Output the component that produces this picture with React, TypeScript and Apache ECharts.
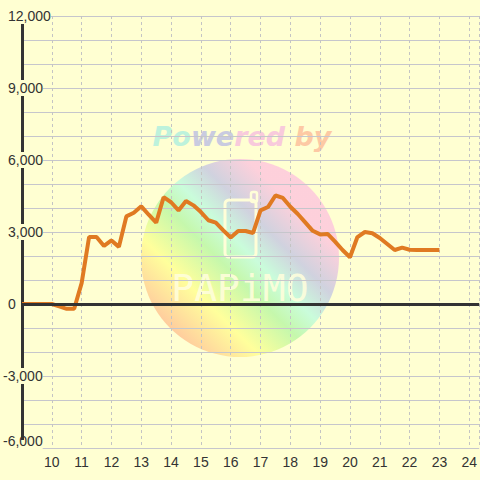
import React, { useEffect, useRef } from "react";
import * as echarts from "echarts";

const hours = [
  9, 9.25, 9.5, 9.75, 10, 10.25, 10.5, 10.75, 11, 11.25, 11.5, 11.75, 12, 12.25, 12.5, 12.75,
  13, 13.25, 13.5, 13.75, 14, 14.25, 14.5, 14.75, 15, 15.25, 15.5, 15.75, 16, 16.25, 16.5, 16.75,
  17, 17.25, 17.5, 17.75, 18, 18.25, 18.5, 18.75, 19, 19.25, 19.5, 19.75, 20, 20.25, 20.5, 20.75,
  21, 21.25, 21.5, 21.75, 22, 22.25, 22.5, 22.75, 23,
];
const values = [
  0, 0, 0, 0, 0, -100, -200, -200, 870, 2790, 2790, 2420, 2650, 2380, 3650, 3800,
  4070, 3720, 3390, 4450, 4240, 3900, 4290, 4110, 3830, 3490, 3390, 3070, 2770, 3040, 3040, 2960,
  3900, 4040, 4520, 4420, 4050, 3750, 3400, 3050, 2900, 2920, 2600, 2250, 1950, 2790, 3000, 2950,
  2750, 2500, 2250, 2350, 2260, 2250, 2250, 2250, 2250,
];
const xLabelMin = 10;
const xLabelMax = 24;
const yLabelStep = 3000;

const BG = "#ffffd2";
const FONT = "'Liberation Sans', Arial, sans-serif";

export default function App() {
  const ref = useRef<HTMLDivElement>(null);
  useEffect(() => {
    const chart = echarts.init(ref.current!, null, { renderer: "svg" });
    const fmt = (v: number) => v.toLocaleString("en-US");
    const G = echarts.graphic;
    const circleFill = new G.LinearGradient(0.15, 0.85, 0.85, 0.15, [
      { offset: 0, color: "#ffc898" },
      { offset: 0.22, color: "#ffff96" },
      { offset: 0.42, color: "#bff7a8" },
      { offset: 0.55, color: "#c4fcdc" },
      { offset: 0.7, color: "#cbcde0" },
      { offset: 0.88, color: "#fdcbdc" },
      { offset: 1, color: "#fdcbdc" },
    ]);
    const wmFont = { fontStyle: "italic", fontWeight: "bold", fontSize: 27, fontFamily: "'DejaVu Sans'", textBorderWidth: 0 };
    chart.setOption({
      animation: false,
      backgroundColor: BG,
      grid: { left: 21, right: 0, top: 16, bottom: 32 },
      xAxis: {
        type: "value",
        min: 9,
        max: 24.334,
        interval: 1,
        axisLine: { show: false },
        axisTick: { show: false },
        axisLabel: {
          margin: 7,
          color: "#333",
          fontSize: 14,
          fontFamily: FONT,
          showMaxLabel: false,
          formatter: (v: number) => (v >= xLabelMin && v <= xLabelMax && Number.isInteger(v) ? String(v) : ""),
        },
        splitLine: { show: true, lineStyle: { color: "#c4c4c4", type: [3, 3], width: 1 } },
      },
      yAxis: {
        type: "value",
        min: -6000,
        max: 12000,
        interval: 1000,
        axisLine: { show: true, onZero: false, lineStyle: { color: "#333", width: 3 } },
        axisTick: { show: false },
        axisLabel: {
          align: "left",
          margin: 19,
          color: "#333",
          fontSize: 14,
          fontFamily: FONT,
          lineHeight: 16,
          backgroundColor: BG,
          formatter: (v: number) => {
            if (v % yLabelStep !== 0) return "";
            if (v === -6000) return `{m|${fmt(v)}}`;
            if (v < 0) return `{n|${fmt(v)}}`;
            return `{p|${fmt(v)}}`;
          },
          rich: {
            p: { padding: [0, 0, 0, 5], color: "#333", fontSize: 14, fontFamily: FONT, lineHeight: 16 },
            n: { color: "#333", fontSize: 14, fontFamily: FONT, lineHeight: 16 },
            m: { padding: [0, 0, 14, 0], color: "#333", fontSize: 14, fontFamily: FONT, lineHeight: 16 },
          },
        },
        splitLine: { show: true, lineStyle: { color: "#c6c6cc", width: 1 } },
      },
      graphic: [
        {
          type: "circle",
          z: -1,
          silent: true,
          shape: { cx: 240, cy: 258, r: 99 },
          style: { fill: circleFill, opacity: 0.9 },
        },
        {
          type: "text",
          z: -1,
          silent: true,
          x: 242,
          y: 136,
          style: {
            text: "{a|Po}{b|we}{c|red}{d| by}",
            align: "center",
            verticalAlign: "middle",
            textAlign: "center",
            textVerticalAlign: "middle",
            fill: "#c9cbe0",
            stroke: "none",
            lineWidth: 0,
            ...wmFont,
            rich: {
              a: { ...wmFont, fill: "#bdf2dc", color: "#bdf2dc" },
              b: { ...wmFont, fill: "#c9cbe0", color: "#c9cbe0" },
              c: { ...wmFont, fill: "#f8cadc", color: "#f8cadc" },
              d: { ...wmFont, fill: "#fdc9a4", color: "#fdc9a4" },
            },
          },
        },
        {
          type: "rect",
          z: -1,
          silent: true,
          shape: { x: 225, y: 200, width: 31, height: 57, r: 4 },
          style: { fill: "none", stroke: "#fffed8", lineWidth: 3 },
        },
        {
          type: "rect",
          z: -1,
          silent: true,
          shape: { x: 251, y: 192, width: 6, height: 10, r: 2 },
          style: { fill: "none", stroke: "#fffed8", lineWidth: 2.5 },
        },
        {
          type: "text",
          z: -1,
          silent: true,
          x: 240,
          y: 288,
          style: {
            text: "PAPiMO",
            font: "38px 'DejaVu Sans Mono'",
            fill: "#fffedc",
            stroke: "none",
            lineWidth: 0,
            align: "center",
            verticalAlign: "middle",
            textAlign: "center",
            textVerticalAlign: "middle",
            opacity: 0.9,
          },
        },
      ],
      series: [
        {
          type: "line",
          data: [[9, 0]],
          symbol: "none",
          lineStyle: { width: 0 },
          z: 2,
          markLine: {
            silent: true,
            symbol: "none",
            label: { show: false },
            lineStyle: { color: "#333", width: 3, type: "solid" },
            data: [{ yAxis: 0 }],
          },
        },
        {
          type: "line",
          data: hours.map((h, i) => [h, values[i]]),
          symbol: "none",
          lineStyle: { color: "#e07a22", width: 4 },
          z: 3,
        },
      ],
    });
    return () => chart.dispose();
  }, []);
  return (
    <div
      ref={ref}
      style={{ position: "fixed", left: 0, top: 0, width: 480, height: 480 }}
    />
  );
}
